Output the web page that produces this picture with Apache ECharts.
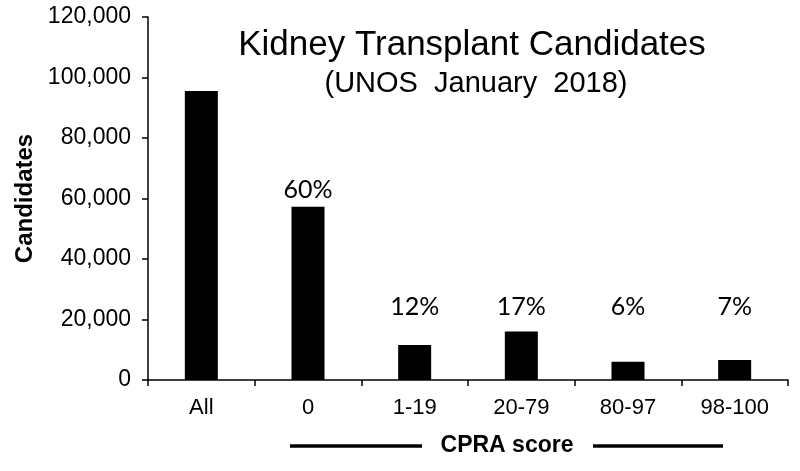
<!DOCTYPE html>
<html>
<head>
<meta charset="utf-8">
<script src="https://cdn.jsdelivr.net/npm/echarts@6/dist/echarts.min.js"></script>
<style>
html,body{margin:0;padding:0;background:#fff;}
#chart{width:800px;height:471px;}
</style>
</head>
<body>
<div id="chart"></div>
<script>
// ---- data ----
const categories = ['All', '0', '1-19', '20-79', '80-97', '98-100'];
const candidates = [95500, 57300, 11600, 16000, 6000, 6600];
const percentLabels = ['', '60%', '12%', '17%', '6%', '7%'];
const yTicks = [0, 20000, 40000, 60000, 80000, 100000, 120000];

// ---- style constants ----
const LABEL_ROW = 24000;   // common level of the small percentage labels
const LABEL_GAP = 5500;    // gap above a tall bar

const chart = echarts.init(document.getElementById('chart'), null, {renderer: 'canvas'});

const labelPoints = categories.map((c, i) => percentLabels[i]
  ? {value: [c, Math.max(candidates[i] + LABEL_GAP, LABEL_ROW)], label: {formatter: percentLabels[i]}}
  : null).filter(d => d);

const option = {
  backgroundColor: '#fff',
  animation: false,
  title: [
    {text: 'Kidney Transplant Candidates', left: 467, top: 23, textAlign: 'center',
     textStyle: {fontFamily: 'Liberation Sans', fontSize: 35, fontWeight: 'normal', color: '#000'}},
    {text: '(UNOS  January  2018)', left: 471, top: 64, textAlign: 'center',
     textStyle: {fontFamily: 'Liberation Sans', fontSize: 29, fontWeight: 'normal', color: '#000'}}
  ],
  grid: {left: 148, right: 12, top: 17, bottom: 91},
  xAxis: {
    type: 'category',
    data: categories,
    axisLine: {lineStyle: {color: '#000', width: 1.5}},
    axisTick: {show: true, alignWithLabel: false, length: 6, lineStyle: {color: '#000', width: 1.5}},
    axisLabel: {color: '#000', fontFamily: 'Liberation Sans', fontSize: 22, margin: 17}
  },
  yAxis: {
    type: 'value',
    min: yTicks[0],
    max: yTicks[yTicks.length - 1],
    interval: yTicks[1] - yTicks[0],
    name: 'Candidates',
    nameLocation: 'middle',
    nameGap: 110,
    nameRotate: 90,
    nameTextStyle: {color: '#000', fontFamily: 'Liberation Sans', fontSize: 24, fontWeight: 'bold'},
    axisLine: {show: true, lineStyle: {color: '#000', width: 1.5}},
    axisTick: {show: true, length: 6, lineStyle: {color: '#000', width: 1.5}},
    splitLine: {show: false},
    axisLabel: {
      color: '#000', fontFamily: 'Liberation Sans', fontSize: 23, margin: 17,
      formatter: v => v.toLocaleString('en-US')
    }
  },
  series: [
    {
      type: 'bar',
      data: candidates,
      barWidth: 33,
      itemStyle: {color: '#000'}
    },
    {
      type: 'scatter',
      data: labelPoints,
      symbolSize: 0,
      silent: true,
      itemStyle: {color: '#000', opacity: 1},
      label: {show: true, position: 'inside', color: '#000', opacity: 1, fontFamily: 'Lato', fontSize: 25}
    }
  ],
  graphic: [
    {type: 'line', shape: {x1: 290, y1: 446, x2: 422, y2: 446}, style: {stroke: '#000', lineWidth: 3.5}},
    {type: 'line', shape: {x1: 593, y1: 446, x2: 723, y2: 446}, style: {stroke: '#000', lineWidth: 3.5}},
    {type: 'text', x: 507, y: 446, style: {text: 'CPRA score', align: 'center', verticalAlign: 'middle',
      fontFamily: 'Liberation Sans', fontSize: 23, fontWeight: 'bold', fill: '#000'}}
  ]
};
chart.setOption(option);
</script>
</body>
</html>
